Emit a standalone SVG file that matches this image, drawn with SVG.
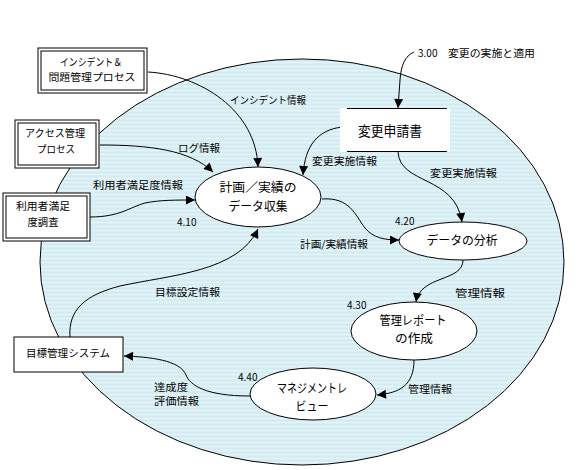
<svg xmlns="http://www.w3.org/2000/svg" width="580" height="470" viewBox="0 0 580 470">
<style>
text{font-family:"Noto Sans CJK JP","DejaVu Sans",sans-serif;fill:#000}
.lbl{font-size:10px}
.bx{font-size:10.5px}
.nd{font-size:12.5px}
.box{fill:#fff;stroke:#000;stroke-width:1}
.proc{fill:#fff;stroke:#000;stroke-width:1}
.con{fill:none;stroke:#000;stroke-width:1;marker-end:url(#arr)}
</style>
<defs>
<pattern id="dots" width="4" height="4" patternUnits="userSpaceOnUse">
<rect width="4" height="4" fill="#d6eff4"/>
<rect x="0" y="0" width="1" height="1" fill="#f0dff0"/>
<rect x="2" y="2" width="1" height="1" fill="#ffffff"/>
<rect x="2" y="0" width="1" height="1" fill="#c6e8f0"/>
<rect x="0" y="2" width="1" height="1" fill="#eaf8fa"/>
</pattern>
<marker id="arr" viewBox="0 0 10 10" refX="10" refY="5" markerWidth="11" markerHeight="9" markerUnits="userSpaceOnUse" orient="auto">
<path d="M0,0 L10,5 L0,10 z" fill="#000"/>
</marker>
</defs>

<g id="boundary">
<ellipse cx="302" cy="262" rx="262" ry="203" fill="url(#dots)" stroke="#000" stroke-width="1"/>
</g>

<g id="connectors">
<path class="con" d="M148,72 C200,75 256,110 258,167"/>
<path class="con" d="M100,145 C150,145 190,150 213,172"/>
<path class="con" d="M90,217 C120,217 130,207 145,203 C160,200 175,200 195,200"/>
<path class="con" d="M70,337 C68,310 85,295 120,286 C170,275 238,272 258,229"/>
<path class="con" d="M342,127 C318,130 305,145 303,175"/>
<path class="con" d="M398,152 C400,185 455,175 462,222"/>
<path class="con" d="M322,199 C350,197 355,215 365,228 C373,238 385,240 399,240"/>
<path class="con" d="M463,260 C463,282 420,275 416,302"/>
<path class="con" d="M414,360 C414,385 400,393 377,395"/>
<path class="con" d="M250,396 C205,396 190,385 186,375 C180,360 150,357 124,356"/>
<path class="con" d="M414,52 C405,56 401,65 400,80 L398,108"/>
</g>

<g id="labels">
<text class="lbl" x="230" y="104" textLength="76" lengthAdjust="spacingAndGlyphs">インシデント情報</text>
<text class="lbl" x="178" y="152" textLength="42" lengthAdjust="spacingAndGlyphs">ログ情報</text>
<text class="lbl" x="93" y="189" textLength="90" lengthAdjust="spacingAndGlyphs">利用者満足度情報</text>
<text class="lbl" x="177" y="226">4.10</text>
<text class="lbl" x="155" y="296" textLength="65" lengthAdjust="spacingAndGlyphs">目標設定情報</text>
<text class="lbl" x="312" y="165" textLength="65" lengthAdjust="spacingAndGlyphs">変更実施情報</text>
<text class="lbl" x="430" y="177" textLength="67" lengthAdjust="spacingAndGlyphs">変更実施情報</text>
<text class="lbl" x="395" y="225">4.20</text>
<text class="lbl" x="300" y="248" textLength="68" lengthAdjust="spacingAndGlyphs">計画/実績情報</text>
<text class="lbl" x="455" y="297" textLength="50" lengthAdjust="spacingAndGlyphs">管理情報</text>
<text class="lbl" x="347" y="309">4.30</text>
<text class="lbl" x="408" y="393" textLength="44" lengthAdjust="spacingAndGlyphs">管理情報</text>
<text class="lbl" x="238" y="381">4.40</text>
<text class="lbl" x="154" y="391" textLength="34" lengthAdjust="spacingAndGlyphs">達成度</text>
<text class="lbl" x="154" y="405" textLength="45" lengthAdjust="spacingAndGlyphs">評価情報</text>
<text class="lbl" x="418" y="57">3.00</text>
<text class="lbl" x="448" y="57" textLength="87" lengthAdjust="spacingAndGlyphs">変更の実施と適用</text>
</g>

<g id="node-incident">
<rect class="box" x="38" y="48" width="109" height="45"/>
<rect class="box" x="41" y="51" width="103" height="39"/>
<text class="bx" x="91" y="66" text-anchor="middle" textLength="62" lengthAdjust="spacingAndGlyphs">インシデント＆</text>
<text class="bx" x="92" y="81" text-anchor="middle" textLength="87" lengthAdjust="spacingAndGlyphs">問題管理プロセス</text>
</g>

<g id="node-access">
<rect class="box" x="15" y="120" width="84" height="48"/>
<rect class="box" x="18" y="123" width="78" height="42"/>
<text class="bx" x="55" y="137" text-anchor="middle" textLength="60" lengthAdjust="spacingAndGlyphs">アクセス管理</text>
<text class="bx" x="56" y="153" text-anchor="middle" textLength="38" lengthAdjust="spacingAndGlyphs">プロセス</text>
</g>

<g id="node-survey">
<rect class="box" x="3" y="193" width="87" height="48"/>
<rect class="box" x="6" y="196" width="81" height="42"/>
<text class="bx" x="43" y="210" text-anchor="middle" textLength="54" lengthAdjust="spacingAndGlyphs">利用者満足</text>
<text class="bx" x="43" y="226" text-anchor="middle" textLength="31" lengthAdjust="spacingAndGlyphs">度調査</text>
</g>

<g id="node-goal">
<rect class="box" x="14" y="337" width="109" height="35"/>
<text class="bx" x="68" y="357" text-anchor="middle" textLength="84" lengthAdjust="spacingAndGlyphs">目標管理システム</text>
</g>

<g id="node-change-request">
<rect x="340" y="108" width="110" height="44" fill="#fff"/>
<line x1="347" y1="108.5" x2="447" y2="108.5" stroke="#000"/>
<line x1="347" y1="151.5" x2="447" y2="151.5" stroke="#000"/>
<text x="390" y="136" font-size="14" text-anchor="middle" textLength="64" lengthAdjust="spacingAndGlyphs">変更申請書</text>
</g>

<g id="node-collect">
<ellipse class="proc" cx="258" cy="197" rx="63" ry="30"/>
<text class="nd" x="258" y="192" text-anchor="middle" textLength="77" lengthAdjust="spacingAndGlyphs">計画／実績の</text>
<text class="nd" x="258" y="211" text-anchor="middle" textLength="59" lengthAdjust="spacingAndGlyphs">データ収集</text>
</g>

<g id="node-analyze">
<ellipse class="proc" cx="463" cy="241" rx="64" ry="19"/>
<text class="nd" x="462" y="245" text-anchor="middle" textLength="71" lengthAdjust="spacingAndGlyphs">データの分析</text>
</g>

<g id="node-report">
<ellipse class="proc" cx="414" cy="331" rx="63" ry="29"/>
<text class="nd" x="413" y="325" text-anchor="middle" textLength="67" lengthAdjust="spacingAndGlyphs">管理レポート</text>
<text class="nd" x="414" y="343" text-anchor="middle" textLength="38" lengthAdjust="spacingAndGlyphs">の作成</text>
</g>

<g id="node-review">
<ellipse class="proc" cx="313" cy="394" rx="63" ry="26"/>
<text class="nd" x="312" y="393" text-anchor="middle" textLength="70" lengthAdjust="spacingAndGlyphs">マネジメントレ</text>
<text class="nd" x="312" y="411" text-anchor="middle" textLength="33" lengthAdjust="spacingAndGlyphs">ビュー</text>
</g>
</svg>
